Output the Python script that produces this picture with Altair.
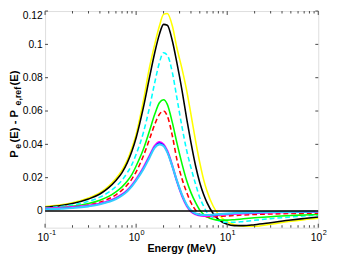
import altair as alt
import pandas as pd

# ---------------- data ----------------
energy = [0.1, 0.15, 0.2, 0.3, 0.4, 0.5, 0.6, 0.7, 0.8, 0.9, 1.0, 1.2, 1.4, 1.6, 1.8, 2.0, 2.2,
          2.5, 2.8, 3.2, 3.6, 4.0, 4.5, 5.0, 5.5, 6.0, 7.0, 8.0, 10, 12, 15, 20, 30, 50, 70, 100]

yellow = [0.0027, 0.0038, 0.0050, 0.0078, 0.0110, 0.0150, 0.0195, 0.0245, 0.0305, 0.038, 0.046,
          0.066, 0.086, 0.100, 0.111, 0.1180, 0.1185, 0.111, 0.098, 0.085, 0.072, 0.058, 0.042,
          0.029, 0.019, 0.012, 0.003, -0.002, -0.0065, -0.0082, -0.0092, -0.0092, -0.0080,
          -0.0062, -0.0052, -0.0044]
black = [0.0023, 0.0033, 0.0045, 0.0072, 0.0102, 0.0140, 0.0183, 0.0230, 0.0290, 0.036, 0.044,
         0.062, 0.080, 0.095, 0.106, 0.1120, 0.1115, 0.102, 0.089, 0.072, 0.055, 0.041, 0.027,
         0.017, 0.010, 0.005, -0.0015, -0.005, -0.0080, -0.0088, -0.0088, -0.0082, -0.0070,
         -0.0054, -0.0045, -0.0036]
cyan_dashed = [0.0019, 0.0027, 0.0036, 0.0058, 0.0083, 0.0113, 0.0147, 0.0185, 0.023, 0.028, 0.034,
               0.047, 0.062, 0.077, 0.089, 0.095, 0.0935, 0.083, 0.068, 0.050, 0.036, 0.026, 0.016,
               0.008, 0.003, -0.001, -0.004, -0.0058, -0.0068, -0.0068, -0.0063, -0.0056, -0.0046,
               -0.0036, -0.0030, -0.0026]
green = [0.0015, 0.0021, 0.0028, 0.0045, 0.0065, 0.0088, 0.0115, 0.0145, 0.018, 0.022, 0.027,
         0.037, 0.048, 0.058, 0.065, 0.0668, 0.064, 0.053, 0.041, 0.028, 0.018, 0.011, 0.005,
         0.0005, -0.002, -0.0035, -0.005, -0.0055, -0.0055, -0.0052, -0.0047, -0.0041, -0.0034,
         -0.0027, -0.0024, -0.0021]
red_dashed = [0.0011, 0.0016, 0.0022, 0.0036, 0.0053, 0.0073, 0.0097, 0.0125, 0.0157, 0.0193, 0.0235,
              0.033, 0.043, 0.052, 0.058, 0.0600, 0.057, 0.045, 0.031, 0.019, 0.011, 0.005, 0.0005,
              -0.002, -0.003, -0.0034, -0.0035, -0.0033, -0.003, -0.0027, -0.0024, -0.0021, -0.0018,
              -0.0015, -0.0014, -0.0013]
magenta = [0.0015, 0.0019, 0.0023, 0.0033, 0.0045, 0.0060, 0.0078, 0.0100, 0.0125, 0.0155, 0.0190,
           0.026, 0.033, 0.039, 0.0414, 0.040, 0.036, 0.027, 0.018, 0.009, 0.003, -0.0003, -0.002,
           -0.0027, -0.0029, -0.0029, -0.0027, -0.0024, -0.0020, -0.0017, -0.0014, -0.0012, -0.0009,
           -0.0007, -0.0006, -0.0005]
blue = [0.0012, 0.0016, 0.0020, 0.0030, 0.0042, 0.0057, 0.0075, 0.0097, 0.0122, 0.0152, 0.0186,
        0.0255, 0.0325, 0.0385, 0.0407, 0.0395, 0.0355, 0.0268, 0.018, 0.0092, 0.0033, 0.0, -0.0018,
        -0.0025, -0.0027, -0.0027, -0.0025, -0.0022, -0.0018, -0.0015, -0.0012, -0.0010, -0.0008,
        -0.0006, -0.0005, -0.0004]
cyan = [0.0010, 0.0014, 0.0018, 0.0028, 0.0040, 0.0055, 0.0072, 0.0094, 0.0119, 0.0149, 0.0183,
        0.0250, 0.0320, 0.0380, 0.0400, 0.0390, 0.0352, 0.0268, 0.0182, 0.0095, 0.0036, 0.0003,
        -0.0015, -0.0022, -0.0024, -0.0024, -0.0022, -0.0019, -0.0016, -0.0013, -0.0010, -0.0008,
        -0.0006, -0.0005, -0.0004, -0.0003]

reference_energy = [0.1, 100]
reference_value = [0, 0]

y_tick_values = [0, 0.02, 0.04, 0.06, 0.08, 0.1, 0.12]
x_major_ticks = [0.1, 1, 10, 100]
x_label_base = ["10", "10", "10", "10"]
x_label_exp = ["-1", "0", "1", "2"]
x_minor_ticks = [k * 10.0 ** d for d in (-1, 0, 1) for k in range(2, 10)]

# ---------------- styling ----------------
W, H = 280, 222
FONT = "Liberation Sans"
xs = alt.Scale(type="log", domain=[0.1, 100])
ys = alt.Scale(domain=[-0.01, 0.12], nice=False, zero=False)
y_axis = alt.Axis(values=y_tick_values, labelExpr="format(datum.value, '.2~f')",
                  ticks=False, domain=False, grid=False, title=None,
                  labelFont=FONT, labelFontSize=10.5, labelColor="#000", labelPadding=3,
                  labelBaseline={"condition": {"test": "datum.value > 0.11", "value": "top"},
                                 "value": "middle"})

series = [
    ("yellow", yellow, "#ffff00", None, 1.6),
    ("black", black, "#000000", None, 1.6),
    ("cyan_dashed", cyan_dashed, "#00ffff", [5, 3], 1.6),
    ("green", green, "#00ff00", None, 1.6),
    ("red_dashed", red_dashed, "#ff0000", [5, 3], 1.6),
    ("magenta", magenta, "#ff00ff", None, 2.2),
    ("blue", blue, "#0000ff", None, 1.2),
    ("cyan", cyan, "#33ccff", None, 2.2),
]

layers = []
base_df = pd.DataFrame({"E": reference_energy, "v": reference_value})

for name, vals, color, dash, sw in series:
    df = pd.DataFrame({"E": energy, "v": vals})
    kw = dict(color=color, strokeWidth=sw, clip=True, interpolate="monotone")
    if dash:
        kw["strokeDash"] = dash
    layers.append(
        alt.Chart(df).mark_line(**kw).encode(
            x=alt.X("E:Q", scale=xs, axis=None),
            y=alt.Y("v:Q", scale=ys, axis=y_axis),
        )
    )

# zero reference line
layers.append(
    alt.Chart(base_df).mark_line(color="#000", strokeWidth=1.3, clip=True).encode(
        x=alt.X("E:Q", scale=xs, axis=None), y=alt.Y("v:Q", scale=ys, axis=y_axis))
)

# inside ticks (box axes)
maj_df = pd.DataFrame({"t": x_major_ticks})
min_df = pd.DataFrame({"t": x_minor_ticks})
ytk_df = pd.DataFrame({"v": y_tick_values})
tick_col = "#444"
for d, ln in ((maj_df, 4), (min_df, 2.5)):
    layers.append(alt.Chart(d).mark_rule(color=tick_col, strokeWidth=1).encode(
        x=alt.X("t:Q", scale=xs, axis=None), y=alt.value(H), y2=alt.value(H - ln)))
    layers.append(alt.Chart(d).mark_rule(color=tick_col, strokeWidth=1).encode(
        x=alt.X("t:Q", scale=xs, axis=None), y=alt.value(0), y2=alt.value(ln)))
layers.append(alt.Chart(ytk_df).mark_rule(color=tick_col, strokeWidth=1).encode(
    y=alt.Y("v:Q", scale=ys, axis=y_axis), x=alt.value(0), x2=alt.value(3)))
layers.append(alt.Chart(ytk_df).mark_rule(color=tick_col, strokeWidth=1).encode(
    y=alt.Y("v:Q", scale=ys, axis=y_axis), x=alt.value(W - 3), x2=alt.value(W)))

# x tick labels 10^n
xl_df = pd.DataFrame({"t": x_major_ticks, "base": x_label_base, "exp": x_label_exp})
layers.append(alt.Chart(xl_df).mark_text(
    font=FONT, fontSize=10.5, align="right", baseline="alphabetic", dx=4, color="#000").encode(
    x=alt.X("t:Q", scale=xs, axis=None), y=alt.value(H + 14), text="base:N"))
layers.append(alt.Chart(xl_df).mark_text(
    font=FONT, fontSize=7.5, align="left", baseline="alphabetic", dx=4.5, color="#000").encode(
    x=alt.X("t:Q", scale=xs, axis=None), y=alt.value(H + 8), text="exp:N"))

# x title
layers.append(alt.Chart(base_df.head(1)).mark_text(
    font=FONT, fontSize=11, fontWeight="bold", align="center", baseline="alphabetic",
    text="Energy  (MeV)", color="#000").encode(x=alt.value(W / 2), y=alt.value(H + 25)))

# y title built from pieces (with subscripts), rotated
adv = {"P": 0.667, "e": 0.556, " ": 0.278, "(": 0.333, ")": 0.333, "E": 0.667, "-": 0.333,
       ",": 0.278, "r": 0.389, "f": 0.333}
MAIN, SUB, GAP = 11.5, 9, 1.5
pieces = [("P", MAIN, False), ("e", SUB, True), (" (E) - P", MAIN, False), ("e,ref", SUB, True),
          (" (E)", MAIN, False)]
total = sum(sum(adv[c] for c in t) * s for t, s, _ in pieces) + GAP * (len(pieces) - 1)
ypos = 104 + total / 2
for t, s, sub in pieces:
    layers.append(alt.Chart(base_df.head(1)).mark_text(
        font=FONT, fontSize=s, fontWeight="bold", align="left", baseline="alphabetic",
        angle=270, text=t, color="#000").encode(
        x=alt.value(-28 + (3 if sub else 0)), y=alt.value(ypos)))
    ypos -= sum(adv[c] for c in t) * s + GAP

chart = alt.layer(*layers).properties(
    width=W, height=H,
    autosize=alt.AutoSizeParams(type="none"),
    padding={"left": 38, "top": 0, "right": 11, "bottom": 29},
).configure_view(stroke="#444", strokeWidth=1).configure(background="white")

chart.save("out.html", embed_options={"renderer": "svg", "actions": False})
